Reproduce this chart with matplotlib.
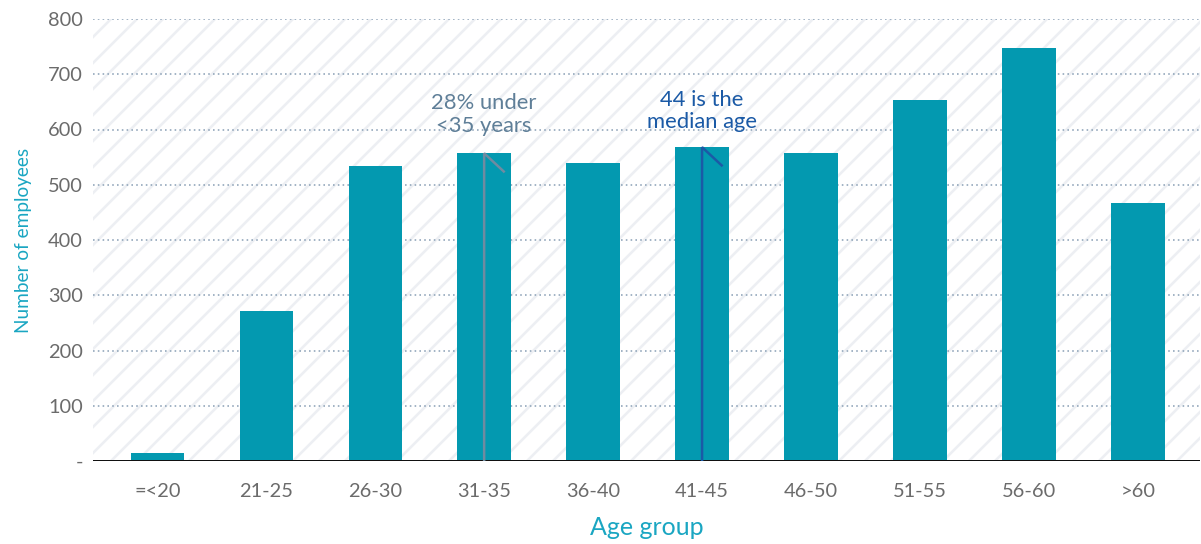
import numpy as np
import matplotlib.pyplot as plt
import matplotlib as mpl

# data
age_groups = ['=<20', '21-25', '26-30', '31-35', '36-40', '41-45', '46-50', '51-55', '56-60', '>60']
employees = [15, 271, 534, 557, 539, 568, 557, 653, 747, 467]
y_ticks = [0, 100, 200, 300, 400, 500, 600, 700, 800]
y_tick_labels = ['-', '100', '200', '300', '400', '500', '600', '700', '800']

DPI = 78
mpl.rcParams['font.family'] = ['Lato', 'DejaVu Sans']
mpl.rcParams['hatch.color'] = '#edeff3'
mpl.rcParams['hatch.linewidth'] = 2.4


def px(v):
    # pixel size -> points
    return v * 72.0 / DPI


fig = plt.figure(figsize=(1201 / DPI, 544 / DPI), dpi=DPI)
ax = fig.add_axes([93 / 1201, 1 - 461 / 544, 1107 / 1201, 442 / 544])

x = np.arange(len(age_groups))

# hatched background
ax.add_patch(plt.Rectangle((0, 0), 1, 1, transform=ax.transAxes, facecolor='white',
                           edgecolor='#edeff3', hatch='/', linewidth=0, zorder=0))

ax.set_ylim(0, 800)
ax.set_xlim(-0.59, len(age_groups) - 0.43)

for t in y_ticks[1:]:
    ax.axhline(t, color='#8ea3b8', linestyle=(0, (1, 2)), linewidth=px(1.6), zorder=1)

ax.bar(x, employees, width=0.49, color='#0399b0', zorder=2)
ax.axhline(0, color='#111111', linewidth=px(3), zorder=3)

# annotation arrows (half-headed) on 31-35 and 41-45 bars
i35 = age_groups.index('31-35')
i45 = age_groups.index('41-45')
for i, col in [(i35, '#6f8ba1'), (i45, '#1b5aa6')]:
    top = employees[i]
    ax.plot([x[i], x[i], x[i] + 0.18], [0, top, top - 33], color=col,
            linewidth=px(2.5), solid_joinstyle='miter', zorder=4)

ax.text(x[i35], 627, '28% under\n<35 years', ha='center', va='center', fontsize=px(22),
        color='#5f7f98', linespacing=1.15, zorder=5)
ax.text(x[i45], 634, '44 is the\nmedian age', ha='center', va='center', fontsize=px(22),
        color='#1b5aa6', linespacing=1.15, zorder=5)

ax.set_yticks(y_ticks)
ax.set_yticklabels(y_tick_labels)
ax.set_xticks(x)
ax.set_xticklabels(age_groups)
ax.tick_params(axis='both', length=0, labelsize=px(20), labelcolor='#6b6b6b')
ax.tick_params(axis='y', pad=px(10))
ax.tick_params(axis='x', pad=px(22))

ax.set_ylabel('Number of employees', fontsize=px(19), color='#1aa6c2', labelpad=px(16))
ax.set_xlabel('Age group', fontsize=px(25), color='#1aa6c2', labelpad=px(16))

for s in ax.spines.values():
    s.set_visible(False)

fig.savefig('out.png', dpi=DPI)
